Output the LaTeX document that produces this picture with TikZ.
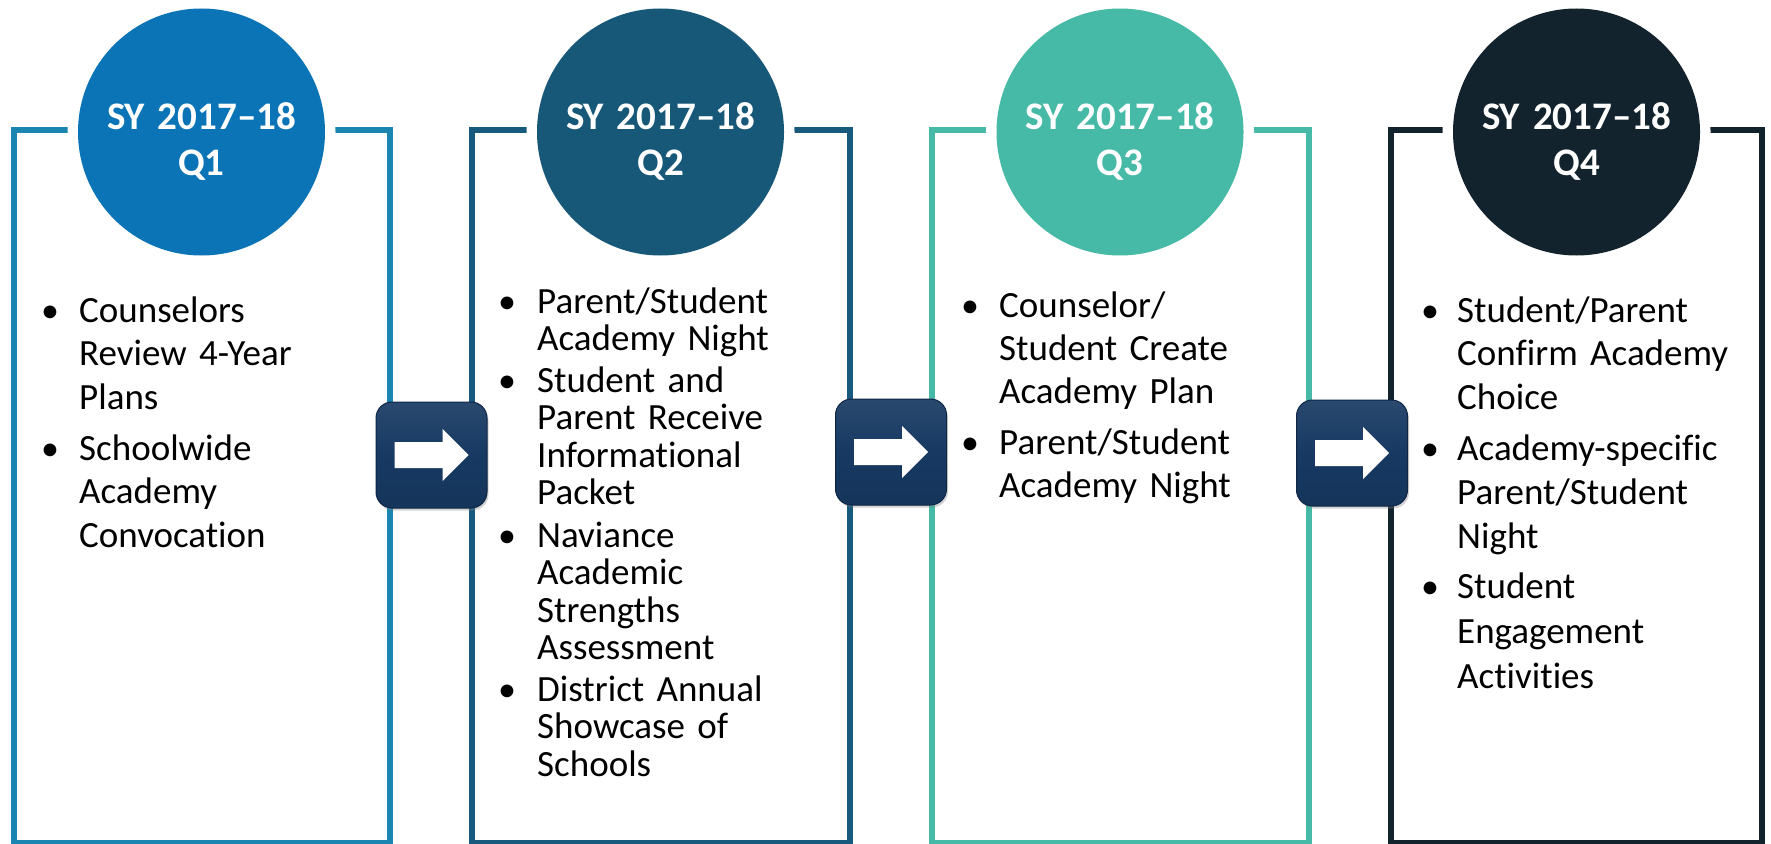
\documentclass[tikz,border=0pt]{standalone}
\usepackage{fontspec}
\setmainfont{Carlito}[Ligatures={TeX,NoCommon}]
\usetikzlibrary{shadows,calc}
\definecolor{circA}{HTML}{0B74B6}
\definecolor{frameA}{HTML}{1985B0}
\definecolor{circB}{HTML}{175777}
\definecolor{frameB}{HTML}{185A7D}
\definecolor{circC}{HTML}{46BAA7}
\definecolor{frameC}{HTML}{46BAA7}
\definecolor{circD}{HTML}{13232E}
\definecolor{frameD}{HTML}{13232E}
\definecolor{navy}{HTML}{173962}
\definecolor{navyedge}{HTML}{0E2546}
\begin{document}
\begin{tikzpicture}[x=1pt,y=-1pt,
  frame/.style={line width=6pt},
  disk/.style={circle, minimum size=247pt, inner sep=0pt, outer sep=0pt,
    preaction={draw=white, line width=21pt}},
  hdrtext/.style={anchor=base, inner sep=0pt, text width=260pt, align=center,
    text=white, font=\fontsize{39}{46}\selectfont\bfseries},
  bul/.style={anchor=base, inner sep=0pt, font=\fontsize{36}{40}\selectfont},
  item/.style={anchor=base west, inner sep=0pt, text width=320pt, align=left},
  arrowbox/.style={rounded corners=16pt, minimum width=111pt, minimum height=106pt,
    inner sep=0pt, top color=navy!92!white, bottom color=navy!92!black, middle color=navy,
    draw=navyedge, line width=1pt,
    drop shadow={shadow xshift=1.5pt, shadow yshift=-2.5pt, opacity=0.35}},
  arrowglyph/.style={fill=white}
]
\useasboundingbox (0,0) rectangle (1771,843);

% frames
\draw[frame, frameA] (13.5,130) rectangle (390,843);
\draw[frame, frameB] (472,130) rectangle (849.5,843);
\draw[frame, frameC] (931.5,130) rectangle (1308.5,843);
\draw[frame, frameD] (1390.5,130) rectangle (1762,843);

% header circles
\node[disk, fill=circA] (q1) at (201.5,132) {};
\node[disk, fill=circB] (q2) at (660.5,132) {};
\node[disk, fill=circC] (q3) at (1120,132) {};
\node[disk, fill=circD] (q4) at (1576.5,132) {};

\node[hdrtext] (t1) at (201.5,129) {SY 2017–18\\Q1};
\node[hdrtext] (t2) at (660.5,129) {SY 2017–18\\Q2};
\node[hdrtext] (t3) at (1120,129) {SY 2017–18\\Q3};
\node[hdrtext] (t4) at (1576.5,129) {SY 2017–18\\Q4};

% column 1
\node[bul] (b1a) at (50,322) {•};
\node[item, font=\fontsize{37}{43.5}\selectfont] (i1a) at (79,322) {Counselors\\Review 4-Year\\Plans};
\node[bul] (b1b) at (50,460) {•};
\node[item, font=\fontsize{37}{43.5}\selectfont] (i1b) at (79,460) {Schoolwide\\Academy\\Convocation};

% column 2
\node[bul] (b2a) at (507,313) {•};
\node[item, font=\fontsize{37}{37.6}\selectfont] (i2a) at (537,313) {Parent/Student\\Academy Night};
\node[bul] (b2b) at (507,392) {•};
\node[item, font=\fontsize{37}{37.6}\selectfont] (i2b) at (537,392) {Student and\\Parent Receive\\Informational\\Packet};
\node[bul] (b2c) at (507,547) {•};
\node[item, font=\fontsize{37}{37.6}\selectfont] (i2c) at (537,547) {Naviance\\Academic\\Strengths\\Assessment};
\node[bul] (b2d) at (507,701) {•};
\node[item, font=\fontsize{37}{37.6}\selectfont] (i2d) at (537,701) {District Annual\\Showcase of\\Schools};

% column 3
\node[bul] (b3a) at (970,317) {•};
\node[item, font=\fontsize{37}{43}\selectfont] (i3a) at (999,317) {Counselor/\\Student Create\\Academy Plan};
\node[bul] (b3b) at (970,454) {•};
\node[item, font=\fontsize{37}{43}\selectfont] (i3b) at (999,454) {Parent/Student\\Academy Night};

% column 4
\node[bul] (b4a) at (1430,322) {•};
\node[item, font=\fontsize{37}{43.5}\selectfont] (i4a) at (1457,322) {Student/Parent\\Confirm Academy\\Choice};
\node[bul] (b4b) at (1430,460) {•};
\node[item, font=\fontsize{37}{44}\selectfont] (i4b) at (1457,460) {Academy-specific\\Parent/Student\\Night};
\node[bul] (b4c) at (1430,598) {•};
\node[item, font=\fontsize{37}{45}\selectfont] (i4c) at (1457,598) {Student\\Engagement\\Activities};

% arrow boxes
\foreach \n/\x/\y in {a1/431.5/455, a2/891/452, a3/1352/453}{
  \node[arrowbox] (\n) at (\x,\y) {};
  \fill[arrowglyph] ($(\n)+(-37,-13)$) -- ($(\n)+(11,-13)$) -- ($(\n)+(11,-26)$)
    -- ($(\n)+(37,0)$) -- ($(\n)+(11,26)$) -- ($(\n)+(11,13)$) -- ($(\n)+(-37,13)$) -- cycle;
}
\end{tikzpicture}
\end{document}
